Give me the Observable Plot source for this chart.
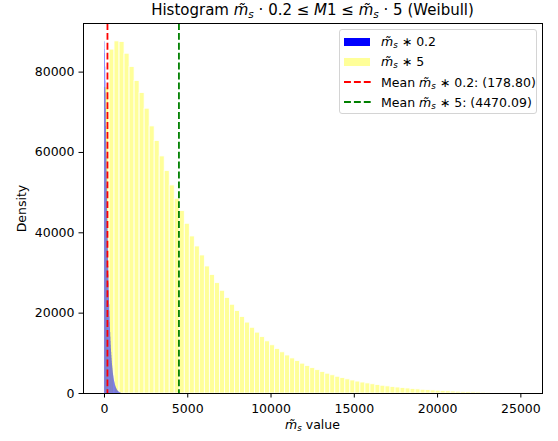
<!DOCTYPE html>
<html><head><meta charset="utf-8">
<script src="https://cdn.jsdelivr.net/npm/d3@7"></script>
<script src="https://cdn.jsdelivr.net/npm/@observablehq/plot@0.6"></script>
<style>
body{margin:0;background:#fff;font-family:"DejaVu Sans",sans-serif;color:#000;}
#wrap{position:relative;width:558px;height:441px;overflow:hidden;}
#chart{position:absolute;left:0;top:0;}
.title{position:absolute;top:1px;left:83px;width:459px;text-align:center;font-size:15px;white-space:nowrap;}
.xlabel{position:absolute;top:417px;left:83px;width:459px;text-align:center;font-size:12.5px;white-space:nowrap;}
.legend{position:absolute;left:339px;top:29px;width:198px;height:85px;border:1px solid #d4d4d4;border-radius:3px;background:rgba(255,255,255,0.8);box-sizing:border-box;}
.row{position:absolute;left:0;height:20px;width:196px;}
.sw{position:absolute;left:4px;top:6px;width:26px;height:8px;}
.dash{position:absolute;left:4px;top:5px;}
.lt{position:absolute;left:41px;top:1px;font-size:12.5px;white-space:nowrap;line-height:18px;}
i{font-style:italic;}
sub{font-size:70%;vertical-align:-0.25em;line-height:0;}
</style></head>
<body>
<div id="wrap">
  <div id="chart"></div>
  <div class="title">Histogram <i>m̃</i><sub><i>s</i></sub> · 0.2 ≤ <i>M</i>1 ≤ <i>m̃</i><sub><i>s</i></sub> · 5 (Weibull)</div>
  <div class="xlabel"><i>m̃</i><sub><i>s</i></sub> value</div>
  <div class="legend" id="legend"></div>
</div>
<script>
// ---- data ----
const yellowBinStart = 0;
const yellowBinWidth = 301.3;
const blueBinStart = 0;
const blueBinWidth = 12.05;
const yellowCounts = [76200,85600,87650,87480,84580,81260,77770,74780,70890,66480,
  62830,59010,55350,51790,48480,45400,42250,39090,36600,34360,
  31620,29500,27470,25570,23780,22090,20510,19030,17650,16360,
  15150,14030,12980,12000,11090,10250,9460,8730,8060,7430,
  6850,6310,5810,5350,4930,4530,4170,3830,3520,3240,
  2970,2730,2510,2300,2110,1930,1770,1620,1490,1360,
  1250,1130,1030,930,840,760,690,620,560,500,
  450,400,360,320,285,255,225,200,175,155,
  135,115,100];
const blueCounts = [76200,85600,87650,87480,84580,81260,77770,74780,70890,66480,
  62830,59010,55350,51790,48480,45400,42250,39090,36600,34360,
  31620,29500,27470,25570,23780,22090,20510,19030,17650,16360,
  15150,14030,12980,12000,11090,10250,9460,8730,8060,7430,
  6850,6310,5810,5350,4930,4530,4170,3830,3520,3240,
  2970,2730,2510,2300,2110,1930,1770,1620,1490,1360,
  1250,1130,1030,930,840,760,690,620,560,500,
  450,400,360,320,285,255,225,200,175,155,
  135,115,100];
const meanSmall = 178.80;
const meanLarge = 4470.09;
const xTicks = [0,5000,10000,15000,20000,25000];
const yTicks = [0,20000,40000,60000,80000];
const legendLabels = ["m̃s * 0.2","m̃s * 5","Mean m̃s * 0.2: (178.80)","Mean m̃s * 5: (4470.09)"];

// ---- build tables ----
const yellowRows = yellowCounts.map((c,i)=>({x1:yellowBinStart+i*yellowBinWidth, x2:yellowBinStart+(i+1)*yellowBinWidth, y:c}));
const blueRows = blueCounts.map((c,i)=>({x1:blueBinStart+i*blueBinWidth, x2:blueBinStart+(i+1)*blueBinWidth, y:c}));

const chart = Plot.plot({
  width:558, height:441,
  marginLeft:83, marginRight:16, marginTop:23, marginBottom:48,
  style:{fontFamily:"DejaVu Sans", fontSize:"12.5px", color:"#000", background:"transparent", overflow:"visible"},
  x:{domain:[-1260,26300]},
  y:{domain:[0,92100]},
  marks:[
    Plot.rectY(yellowRows,{x1:"x1",x2:"x2",y:"y",fill:"yellow",fillOpacity:0.4,stroke:"white",strokeWidth:0.8}),
    Plot.rectY(blueRows,{x1:"x1",x2:"x2",y:"y",fill:"blue",fillOpacity:0.65}),
    Plot.ruleX([meanSmall],{stroke:"red",strokeWidth:1.8,strokeDasharray:"6.9,3"}),
    Plot.ruleX([meanLarge],{stroke:"green",strokeWidth:1.8,strokeDasharray:"6.9,3"}),
    Plot.axisX({ticks:xTicks, tickFormat:d3.format("d"), tickSize:4.5, tickPadding:6, label:null, fontSize:12.5}),
    Plot.axisY({ticks:yTicks, tickFormat:d3.format("d"), tickSize:4.5, tickPadding:4.5, label:"Density", labelAnchor:"center", labelArrow:"none", labelOffset:66, fontSize:12.5}),
    Plot.frame({stroke:"#000", strokeWidth:1})
  ]
});
document.getElementById("chart").appendChild(chart);

// ---- legend ----
const legend = document.getElementById("legend");
const fmt = s => s.replace(/m̃s/g,'<i>m̃</i><sub><i>s</i></sub>').replace(/\*/g,'∗');
const kinds = [
  {type:"sw", color:"#0000ff"},
  {type:"sw", color:"rgba(255,255,0,0.4)"},
  {type:"dash", color:"#ff0000"},
  {type:"dash", color:"#008000"}
];
const svgNS = "http://www.w3.org/2000/svg";
legendLabels.forEach((lab,i)=>{
  const r = document.createElement("div");
  r.className="row";
  r.style.top = (2 + i*20.3)+"px";
  const k = kinds[i];
  if(k.type==="sw"){
    const m = document.createElement("div");
    m.className = "sw"; m.style.background = k.color;
    r.appendChild(m);
  } else {
    const s = document.createElementNS(svgNS,"svg");
    s.setAttribute("class","dash"); s.setAttribute("width","27"); s.setAttribute("height","8");
    const l = document.createElementNS(svgNS,"line");
    l.setAttribute("x1","0"); l.setAttribute("x2","27"); l.setAttribute("y1","4"); l.setAttribute("y2","4");
    l.setAttribute("stroke",k.color); l.setAttribute("stroke-width","1.8"); l.setAttribute("stroke-dasharray","6.9,3");
    s.appendChild(l); r.appendChild(s);
  }
  const t = document.createElement("div");
  t.className="lt";
  t.innerHTML = fmt(lab);
  r.appendChild(t);
  legend.appendChild(r);
});
</script>
</body></html>
